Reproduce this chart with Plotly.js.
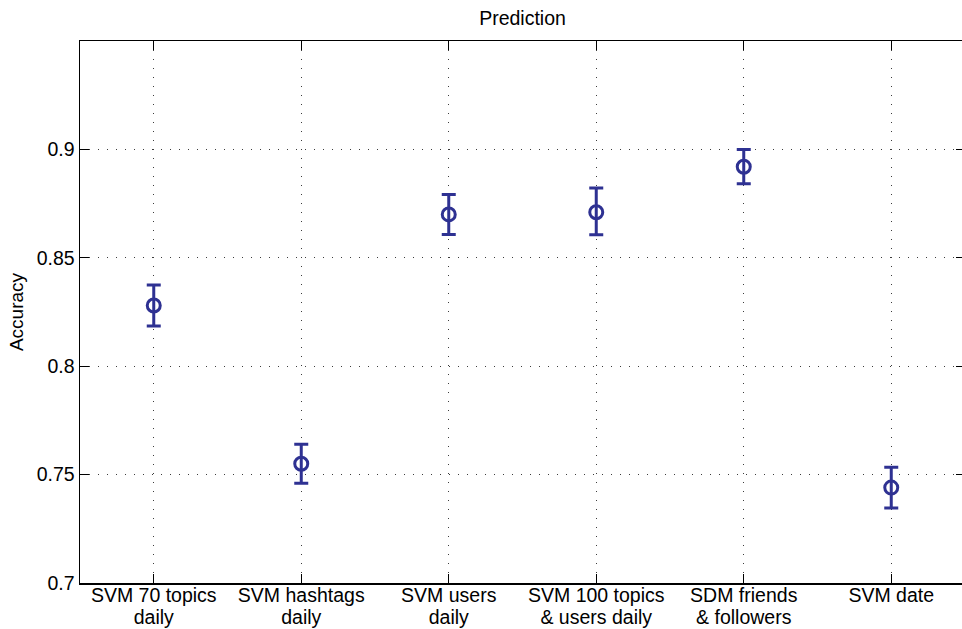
<!DOCTYPE html>
<html>
<head>
<meta charset="utf-8">
<script src="https://cdn.plot.ly/plotly-3.0.1.min.js"></script>
<style>
html,body{margin:0;padding:0;overflow:hidden;background:#fff;}
#chart{width:970px;height:629px;}
</style>
</head>
<body>
<div id="chart"></div>
<script>
var categories = ["SVM 70 topics<br>daily", "SVM hashtags<br>daily", "SVM users<br>daily", "SVM 100 topics<br>& users daily", "SDM friends<br>& followers", "SVM date"];
var positions = [1, 2, 3, 4, 5, 6];
var accuracy = [0.828, 0.755, 0.870, 0.871, 0.892, 0.744];
var errUpper = [0.0094, 0.0090, 0.0092, 0.0112, 0.0079, 0.0094];
var errLower = [0.0094, 0.0090, 0.0092, 0.0104, 0.0079, 0.0094];
var yTicks = [0.7, 0.75, 0.8, 0.85, 0.9];
var yTickText = ["0.7", "0.75", "0.8", "0.85", "0.9"];

var col = "rgb(46,49,146)";
var trace = {
  x: positions, y: accuracy, type: "scatter", mode: "markers",
  marker: {symbol: "circle-open", size: 13, color: col, line: {width: 3, color: col}},
  error_y: {type: "data", symmetric: false, array: errUpper, arrayminus: errLower, color: col, thickness: 3, width: 7},
  hoverinfo: "skip", showlegend: false
};
var fam = "Liberation Sans, Arial, Helvetica, sans-serif";
var fnt = {family: fam, size: 19.5, color: "#000"};
var layout = {
  width: 970, height: 629,
  margin: {l: 80, r: 5, t: 41, b: 46},
  paper_bgcolor: "#fff", plot_bgcolor: "#fff",
  font: fnt,
  title: {text: "Prediction", x: 0.5, xref: "paper", xanchor: "center", y: 0.971, yref: "container", yanchor: "middle", font: {family: fam, size: 19.5, color: "#000"}},
  xaxis: {
    range: [0.5, 6.5], tickmode: "array", tickvals: positions, ticktext: categories,
    showline: true, linecolor: "#000", linewidth: 1.5, mirror: "allticks",
    ticks: "inside", ticklen: 9, tickwidth: 1, tickcolor: "#000",
    showgrid: true, gridcolor: "rgb(60,60,60)", gridwidth: 1, griddash: "1px,8px",
    zeroline: false, tickfont: {family: fam, size: 19.5, color: "#000"}, ticklabelstandoff: -6
  },
  yaxis: {
    range: [0.7, 0.95], tickmode: "array", tickvals: yTicks, ticktext: yTickText,
    showline: true, linecolor: "#000", linewidth: 1.5, mirror: "allticks",
    ticks: "inside", ticklen: 9, tickwidth: 1, tickcolor: "#000",
    showgrid: true, gridcolor: "rgb(60,60,60)", gridwidth: 1, griddash: "1px,8px",
    zeroline: false, tickfont: fnt,
    title: {text: "Accuracy", font: {family: fam, size: 19, color: "#000"}, standoff: 8}
  }
};
Plotly.newPlot("chart", [trace], layout, {displayModeBar: false, staticPlot: true}).then(function (gd) {
  // tighten the line spacing of the two-line category labels
  var lines = gd.querySelectorAll(".xtick text tspan.line");
  lines.forEach(function (t) {
    var dy = t.getAttribute("dy");
    if (dy && dy.indexOf("1.3em") >= 0) t.setAttribute("dy", "1.13em");
  });
});
</script>
</body>
</html>
